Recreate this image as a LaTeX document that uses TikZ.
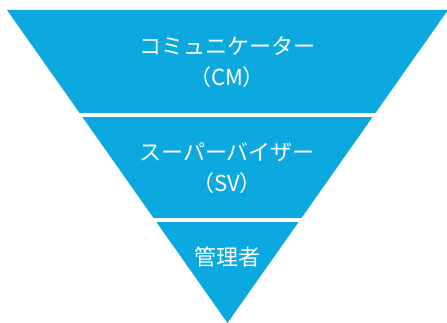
\documentclass[tikz,border=0pt]{standalone}
\usepackage{fontspec}
\newfontfamily\jp{Noto Sans CJK JP}
\definecolor{tri}{RGB}{12,168,224}
\begin{document}
\begin{tikzpicture}[x=1pt,y=1pt,
  lbl/.style={text=white,font=\jp\fontsize{22}{31}\selectfont,align=center,inner sep=0pt},
  gap/.style={fill=white}]
\useasboundingbox (0,0) rectangle (447,322);
\clip (0,0) rectangle (447,322);
\fill[tri] (7,312) -- (448,312) -- (227.5,-1) -- cycle;
\fill[gap] (0,205.3) rectangle (447,209.3);
\fill[gap] (0,100.5) rectangle (447,104.5);
\node[lbl] (cm) at (227,260) {コミュニケーター\\（CM）};
\node[lbl] (sv) at (227,153.5) {スーパーバイザー\\（SV）};
\node[lbl] (mg) at (227,64.5) {管理者};
\end{tikzpicture}
\end{document}
